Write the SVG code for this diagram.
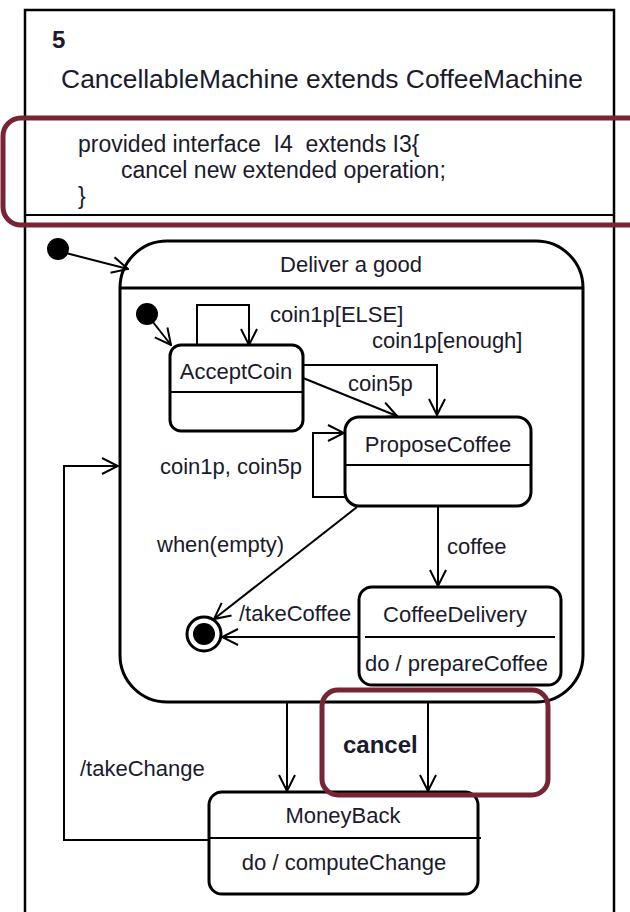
<svg xmlns="http://www.w3.org/2000/svg" width="630" height="912" viewBox="0 0 630 912">
<style>
text{font-family:"Liberation Sans",Arial,sans-serif;fill:#1a1a2c;white-space:pre;}
.lbl{font-size:22px;}
.st{fill:#fff;stroke:#000;stroke-width:3;}
.sep{stroke:#000;stroke-width:2;}
.con{fill:none;stroke:#000;stroke-width:2;}
.hl{fill:none;stroke:#772434;stroke-width:5;}
</style>
<defs>
<marker id="ah" viewBox="0 0 18 18" refX="17" refY="9" markerWidth="18" markerHeight="18" markerUnits="userSpaceOnUse" orient="auto">
<path d="M1,1 L17,9 L1,17" fill="none" stroke="#000" stroke-width="2"/>
</marker>
</defs>
<rect width="630" height="912" fill="#fff"/>
<g id="frame">
<rect x="25" y="10" width="589" height="905" fill="none" stroke="#000" stroke-width="2.5"/>
<text x="52" y="48" font-size="24" font-weight="bold">5</text>
<text x="322" y="88" font-size="26.4" text-anchor="middle">CancellableMachine extends CoffeeMachine</text>
<line class="sep" x1="25" y1="118" x2="614" y2="118"/>
<text x="78" y="152" font-size="23" xml:space="preserve">provided interface  I4  extends I3{</text>
<text x="121" y="178" font-size="23">cancel new extended operation;</text>
<text x="78" y="204" font-size="23">}</text>
<line class="sep" x1="25" y1="215" x2="614" y2="215"/>
</g>
<g id="connectors">
<path class="con" d="M58,251 L128,269" marker-end="url(#ah)"/>
<path class="con" d="M149,317 L171,345" marker-end="url(#ah)"/>
<path class="con" d="M197,345 V305 H249 V345" marker-end="url(#ah)"/>
<text class="lbl" x="270" y="322">coin1p[ELSE]</text>
<path class="con" d="M303,365 H437 V415" marker-end="url(#ah)"/>
<text class="lbl" x="372" y="348">coin1p[enough]</text>
<path class="con" d="M303,378 L397,416" marker-end="url(#ah)"/>
<text class="lbl" x="348" y="391">coin5p</text>
<path class="con" d="M346,497 H313 V433 H344" marker-end="url(#ah)"/>
<text class="lbl" x="160" y="474">coin1p, coin5p</text>
<path class="con" d="M357,507 L214,619" marker-end="url(#ah)"/>
<text class="lbl" x="157" y="552">when(empty)</text>
<path class="con" d="M438,507 V586" marker-end="url(#ah)"/>
<text class="lbl" x="447" y="554">coffee</text>
<path class="con" d="M359,637 L222,637" marker-end="url(#ah)"/>
<text class="lbl" x="239" y="621">/takeCoffee</text>
<path class="con" d="M287,702 V791" marker-end="url(#ah)"/>
<path class="con" d="M428,702 V791" marker-end="url(#ah)"/>
<text x="343" y="753" font-size="24" font-weight="bold">cancel</text>
<path class="con" d="M209,840 H64 V466 H118" marker-end="url(#ah)"/>
<text class="lbl" x="80" y="776">/takeChange</text>
</g>
<g id="init">
<circle cx="58" cy="249" r="11" fill="#000"/>
</g>
<g id="deliver">
<rect x="120" y="241" width="463" height="461" rx="47" ry="47" fill="none" stroke="#000" stroke-width="3"/>
<line x1="120" y1="288" x2="583" y2="288" stroke="#000" stroke-width="3"/>
<text class="lbl" x="351" y="272" text-anchor="middle">Deliver a good</text>
</g>
<g id="init2">
<circle cx="147" cy="314" r="11" fill="#000"/>
</g>
<g id="acceptCoin">
<rect class="st" x="170" y="345" width="133" height="86" rx="11"/>
<line class="sep" x1="170" y1="392" x2="303" y2="392"/>
<text class="lbl" x="236" y="379" text-anchor="middle">AcceptCoin</text>
</g>
<g id="proposeCoffee">
<rect class="st" x="345" y="417" width="186" height="89" rx="14"/>
<line class="sep" x1="345" y1="465" x2="531" y2="465"/>
<text class="lbl" x="438" y="452" text-anchor="middle">ProposeCoffee</text>
</g>
<g id="coffeeDelivery">
<rect class="st" x="359" y="587" width="202" height="98" rx="13"/>
<line class="sep" x1="365" y1="637" x2="555" y2="637"/>
<text class="lbl" x="455" y="622" text-anchor="middle">CoffeeDelivery</text>
<text class="lbl" x="365" y="671">do / prepareCoffee</text>
</g>
<g id="final">
<circle cx="204" cy="634" r="17" fill="#fff" stroke="#000" stroke-width="3"/>
<circle cx="204" cy="634" r="11" fill="#000"/>
</g>
<g id="moneyBack">
<rect class="st" x="209" y="792" width="269" height="102" rx="13"/>
<line class="sep" x1="209" y1="838" x2="481" y2="838"/>
<text class="lbl" x="343" y="823" text-anchor="middle">MoneyBack</text>
<text class="lbl" x="344" y="870" text-anchor="middle">do / computeChange</text>
</g>
<g id="highlights">
<rect class="hl" x="3" y="118" width="660" height="107" rx="18"/>
<rect class="hl" x="322" y="690" width="226" height="105" rx="16"/>
</g>
</svg>
